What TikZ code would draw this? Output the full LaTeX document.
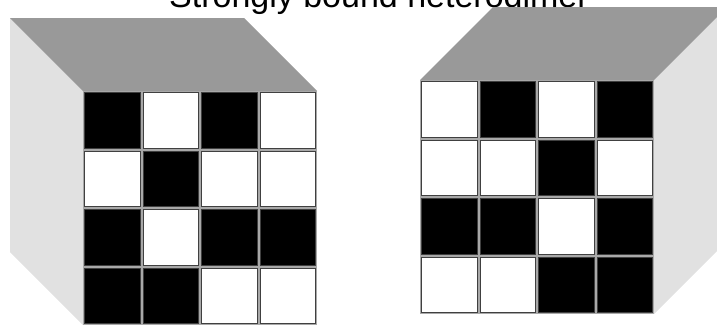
\documentclass[tikz,border=0pt]{standalone}
\usepackage{fontspec}
\setmainfont{Liberation Sans}
\definecolor{lidGray}{HTML}{999999}
\definecolor{wallGray}{HTML}{E1E1E1}
\definecolor{gapGray}{HTML}{A8A8A8}

\begin{document}
\begin{tikzpicture}[
  x=1pt,y=-1pt,
  lid/.style={fill=lidGray},
  wall/.style={fill=wallGray},
  front/.style={fill=gapGray},
  cell/.style={fill=#1,draw=black!75,line width=0.9pt}
]
\useasboundingbox (0,0) rectangle (717,324);
\clip (0,0) rectangle (717,324);
\node[font=\fontsize{34}{40}\selectfont,anchor=base] (title) at (379,7) {Strongly bound heterodimer};
% left cube, wall on the left
\fill[wall] (10,18) -- (83,91) -- (83,325) -- (10,252) -- cycle;
\fill[lid] (10,18) -- (244,18) -- (317,91) -- (83,91) -- cycle;
\fill[front] (83,91) rectangle (317,325);
\foreach \row [count=\j from 0] in {{black,white,black,white},{white,black,white,white},{black,white,black,black},{black,black,white,white}}
  \foreach \c [count=\i from 0] in \row
    \draw[cell=\c] (84.5+58.5*\i,92.5+58.5*\j) rectangle ++(55.5,55.5);
% right cube, wall on the right
\fill[wall] (654,80) -- (727,7) -- (727,241) -- (654,314) -- cycle;
\fill[lid] (420,80) -- (493,7) -- (727,7) -- (654,80) -- cycle;
\fill[front] (420,80) rectangle (654,314);
\foreach \row [count=\j from 0] in {{white,black,white,black},{white,white,black,white},{black,black,white,black},{white,white,black,black}}
  \foreach \c [count=\i from 0] in \row
    \draw[cell=\c] (421.5+58.5*\i,81.5+58.5*\j) rectangle ++(55.5,55.5);
\end{tikzpicture}
\end{document}
